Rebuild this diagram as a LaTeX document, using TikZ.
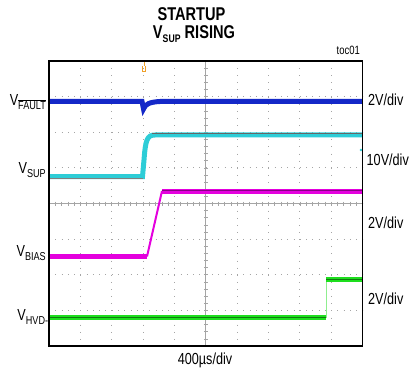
\documentclass[tikz,border=0pt]{standalone}
\usepackage{fontspec}
\setmainfont{Liberation Sans}[FakeStretch=0.79]
\usetikzlibrary{positioning}

\definecolor{faultblue}{RGB}{20,40,200}
\definecolor{supcyan}{RGB}{45,205,215}
\definecolor{biasmag}{RGB}{228,0,222}
\definecolor{hvdgreen}{RGB}{30,222,30}
\definecolor{trigorange}{RGB}{240,160,40}
\definecolor{gridgray}{RGB}{165,165,165}

\newcommand{\sig}[2]{V\raisebox{-4pt}{\fontsize{11.5}{12}\selectfont #2}}

\begin{document}
\begin{tikzpicture}[x=1pt,y=-1pt]
  \tikzset{
    chlabel/.style={anchor=base east, inner sep=0pt, font=\fontsize{16}{18}\selectfont},
    scalelabel/.style={anchor=base west, inner sep=0pt, font=\fontsize{16}{18}\selectfont},
    titletext/.style={inner sep=0pt, anchor=base, font=\bfseries\fontsize{18.5}{20}\selectfont},
    griddots/.style={gridgray, line width=0.8pt},
    trace/.style={line width=5pt},
    edge/.style={line width=1.2pt},
  }
  \useasboundingbox (0,0) rectangle (409,374);

  % title
  \node[titletext] (title1) at (191.5,20.5) {STARTUP};
  \node[titletext] (title2) at (194,39) {V\raisebox{-4pt}{\fontsize{11}{12}\selectfont SUP} RISING};
  \node[anchor=base east, inner sep=0pt, font=\fontsize{12}{14}\selectfont] (toc) at (360,55) {toc01};

  % grid
  \foreach \i in {1,...,9}
    \draw[griddots, dash pattern=on 0.8pt off 6.325pt] (49+\i*31.35,61) -- (49+\i*31.35,346);
  \foreach \j in {1,...,7}
    \draw[griddots, dash pattern=on 0.8pt off 5.47pt] (49,61+\j*35.625) -- (362.5,61+\j*35.625);
  \draw[gridgray, line width=0.6pt] (49,203.5) -- (362.5,203.5);
  \draw[gridgray, line width=0.6pt] (205.75,61) -- (205.75,346);
  \foreach \k in {1,...,49}
    \draw[gridgray, line width=0.6pt] (49+\k*6.27,201.5) -- (49+\k*6.27,205.5);
  \foreach \k in {1,...,39}
    \draw[gridgray, line width=0.6pt] (203.75,61+\k*7.125) -- (207.75,61+\k*7.125);

  % traces
  \draw[trace, faultblue] (49,101.5) -- (142,101.5) -- (143.5,109)
    .. controls (145,104) and (150,102) .. (160,101.5) -- (362.5,101.5);
  \draw[trace, supcyan] (49,176.5) -- (142.5,176.5) -- (144,160)
    .. controls (145.5,140) and (147,135) .. (155,135) -- (362.5,135);
  \draw[line width=0.5pt, black!60] (152,132.8) -- (362.5,132.8);
  \draw[line width=0.5pt, black!50] (49,178.3) -- (142.5,178.3);
  \fill[supcyan] (361,150) circle (1.3pt);
  \draw[trace, biasmag] (49,256.5) -- (147,256.5);
  \draw[line width=2pt, biasmag] (147,256.5) -- (162,191);
  \draw[trace, biasmag] (162,191) -- (362.5,191);
  \draw[line width=0.5pt, biasmag!60!black] (162,190) -- (362.5,190);
  \draw[trace, hvdgreen] (49,317.5) -- (326,317.5);
  \draw[line width=0.8pt, hvdgreen!50] (326,317.5) -- (326,279.5);
  \draw[trace, hvdgreen] (326,279.5) -- (362.5,279.5);
  \draw[line width=0.6pt, hvdgreen!55!black] (49,317.5) -- (326,317.5);
  \draw[line width=0.6pt, hvdgreen!55!black] (326,279.5) -- (362.5,279.5);

  % trigger marker
  \draw[trigorange, line width=0.8pt] (144,62) -- (144,66);
  \draw[trigorange, line width=0.8pt] (142.3,66.5) -- (142.3,71) -- (145.7,71) -- (145.7,66.5);

  % frame
  \draw[edge] (49,61) rectangle (362.5,346);

  % channel labels
  \node[chlabel] (fault) at (46,105.5) {V\raisebox{-4pt}{\fontsize{11.5}{12}\selectfont$\overline{\hbox{FAULT}}$}};
  \node[chlabel] (sup) at (46,174) {\sig{V}{SUP}};
  \node[chlabel] (bias) at (46,256.5) {\sig{V}{BIAS}};
  \node[chlabel] (hvd) at (48.3,320.5) {\sig{V}{HVD-}};

  % scales
  \node[scalelabel] (sfault) at (368,106) {2V/div};
  \node[scalelabel] (ssup) at (366.5,165) {10V/div};
  \node[scalelabel] (sbias) at (368,228) {2V/div};
  \node[scalelabel] (shvd) at (368,304) {2V/div};
  \node[anchor=base, inner sep=0pt, font=\fontsize{16}{18}\selectfont] (time) at (205,364) {400µs/div};
\end{tikzpicture}
\end{document}
